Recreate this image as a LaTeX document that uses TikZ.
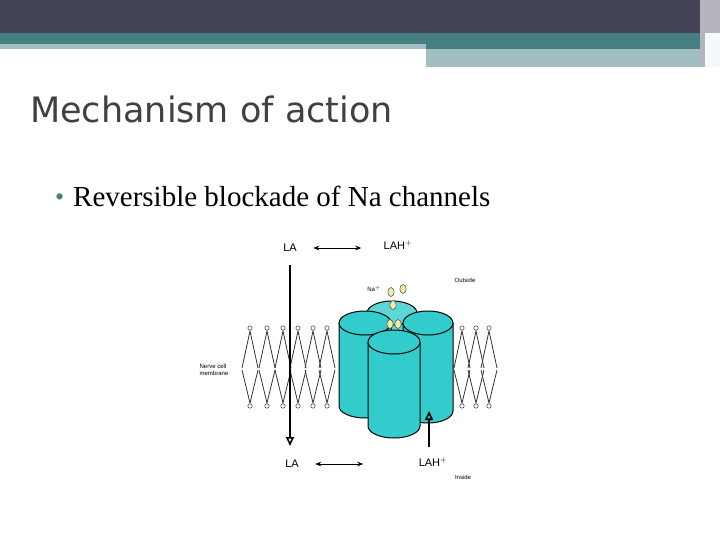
\documentclass[tikz,border=0pt]{standalone}
\usepackage{fontspec}
\setmainfont{Liberation Serif}
\setsansfont{Liberation Sans}
\newfontfamily\titlefont{DejaVu Sans}
\usetikzlibrary{arrows.meta}
\definecolor{barDark}{HTML}{434357}
\definecolor{barTeal}{HTML}{467F82}
\definecolor{barLight}{HTML}{A3BEC3}
\definecolor{chanCyan}{HTML}{33CCCC}
\definecolor{chanTop}{HTML}{5CD6D6}
\definecolor{ionYellow}{HTML}{F2EBA8}
\tikzset{
  lbl/.style={font=\sffamily\fontsize{11}{11}\selectfont},
  tiny/.style={font=\sffamily\fontsize{6}{7}\selectfont, align=left},
  flow/.style={-{Triangle[open,length=9pt,width=8pt]}, line width=1.6pt},
  swap/.style={{Stealth[length=6pt]}-{Stealth[length=6pt]}, line width=0.7pt},
  ion/.style={draw=black!70, fill=ionYellow, line width=0.5pt},
}
% cylinder: centre x, top y, bottom y, radius
\newcommand{\chancyl}[5][chanCyan]{
  \fill[#1] (#2-#5,#3) -- (#2-#5,#4) arc[start angle=180,end angle=0,x radius=#5,y radius=12] -- (#2+#5,#3) -- cycle;
  \draw[line width=1pt] (#2-#5,#3) -- (#2-#5,#4) arc[start angle=180,end angle=0,x radius=#5,y radius=12] -- (#2+#5,#3);
  \draw[line width=1pt, fill=#1] (#2,#3) ellipse[x radius=#5, y radius=12];
}
\begin{document}
\begin{tikzpicture}[x=1pt,y=-1pt]
  \useasboundingbox (0,0) rectangle (720,540);
  % header bars
  \fill[barDark] (0,0) rectangle (720,33);
  \fill[barTeal] (0,33) rectangle (700,49);
  \fill[barLight] (0,44) rectangle (426,49);
  \fill[barLight] (426,49) rectangle (700,67);
  \fill[barDark!40] (700,0) rectangle (720,67);
  \fill[white!90!barLight] (705,33) rectangle (720,67);

  % title and bullet
  \node[anchor=base west, text=black!75, font=\titlefont\fontsize{35}{35}\selectfont, inner sep=0pt] (title) at (30,123) {Mechanism of action};
  \node[anchor=base west, text=barTeal, font=\fontsize{26}{26}\selectfont, inner sep=0pt] (dot) at (55,206) {\textbullet};
  \node[anchor=base west, font=\fontsize{29}{29}\selectfont, inner sep=0pt] (point) at (73,207) {Reversible blockade of Na channels};

  % membrane lipids
  \foreach \x in {250,267,283,298,313,327,462,476,489} {
    \draw[black!80, line width=0.8pt] (\x-8,368) -- (\x,331) -- (\x+8,368);
    \draw[black!80, line width=0.8pt] (\x-8,370) -- (\x,403) -- (\x+8,370);
    \draw[black!80, fill=white, line width=0.5pt] (\x,328) circle (2.2);
    \draw[black!80, fill=white, line width=0.5pt] (\x,406) circle (2.2);
  }

  % channel
  \chancyl[chanTop]{392}{313}{330}{25}
  \chancyl{365}{323}{406}{26}
  \chancyl{428}{323}{411}{25}
  \chancyl{394}{342}{426}{26}

  % ions
  \foreach \x/\y in {391/292,403/289,393/305,390/324,398/324}
    \draw[ion] (\x,\y) ellipse[x radius=3.2, y radius=4.5];

  % labels
  \node[lbl] (laTop) at (290,248) {LA};
  \node[lbl] (lahTop) at (398,245) {LAH$^{+}$};
  \node[lbl] (laBot) at (292,464) {LA};
  \node[lbl] (lahBot) at (433,462) {LAH$^{+}$};
  \node[tiny] (naion) at (374,289) {Na$^{+}$};
  \node[tiny] (outside) at (465,280) {Outside};
  \node[tiny] (inside) at (463,477) {Inside};
  \node[tiny] (membrane) at (214,370) {Nerve cell\\membrane};
  \coordinate (cross) at (290,265);
  \coordinate (crossEnd) at (290,446);
  \coordinate (entry) at (429,447);
  \coordinate (entryEnd) at (429,411);

  \draw[swap] (laTop.east) ++(13,0) -- ++(48,0);
  \draw[swap] (laBot.east) ++(13,0) -- ++(48,0);
  \draw[flow] (cross) -- (crossEnd);
  \draw[flow] (entry) -- (entryEnd);
\end{tikzpicture}
\end{document}
